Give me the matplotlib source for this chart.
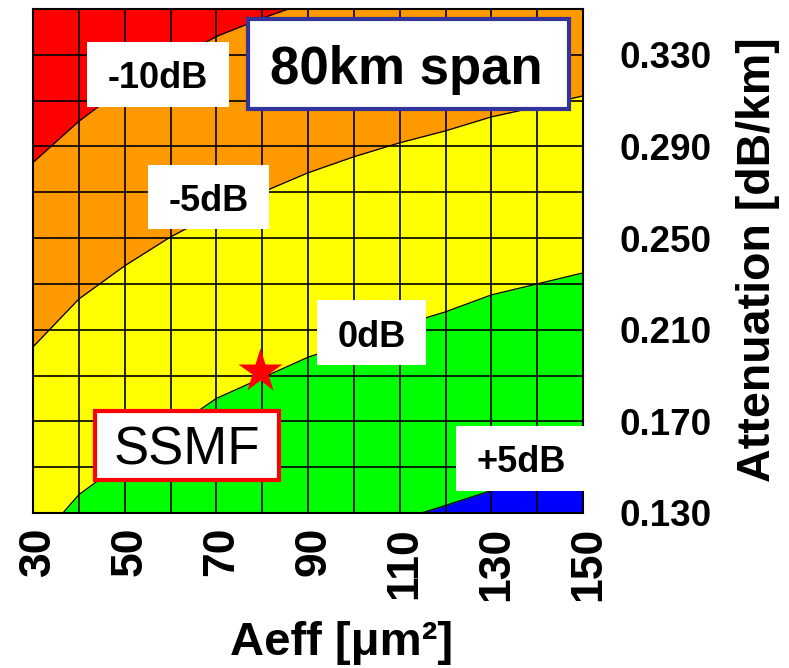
import matplotlib
matplotlib.use('Agg')
import matplotlib.pyplot as plt
import matplotlib.transforms as mtransforms
from matplotlib.patches import Rectangle
from matplotlib.ticker import FixedLocator, FormatStrFormatter

# effective area grid [um^2]
aeff = [30, 40, 50, 60, 70, 80, 90, 100, 110, 120, 130, 140, 150]
# attenuation grid [dB/km]
att_grid = [0.13, 0.15, 0.17, 0.19, 0.21, 0.23, 0.25, 0.27, 0.29, 0.31, 0.33, 0.35]

# attenuation [dB/km] where each level boundary crosses the grid
att_m10 = [0.283, 0.301, 0.316, 0.327, 0.338, 0.346, 0.353, 0.360, 0.366, 0.372, 0.377, 0.382, 0.386]
att_m5 = [0.2025, 0.2234, 0.2379, 0.2505, 0.261, 0.270, 0.2785, 0.2855, 0.2916, 0.2968, 0.3029, 0.3073, 0.3121]
att_0 = [0.115, 0.138, 0.1526, 0.1663, 0.180, 0.189, 0.198, 0.2046, 0.2117, 0.2178, 0.2252, 0.230, 0.2348]
aeff_p5 = [110, 120, 130, 140, 150]
att_p5 = [0.127, 0.1333, 0.1398, 0.145, 0.150]

ssmf_aeff = 79.5
ssmf_att = 0.192

x_ticks = [30, 50, 70, 90, 110, 130, 150]
y_ticks = [0.130, 0.170, 0.210, 0.250, 0.290, 0.330]

RED = '#FF0000'
ORANGE = '#FF9900'
YELLOW = '#FFFF00'
GREEN = '#00FF00'
BLUE = '#0000FF'


def label_box(ax, x0, y0, x1, y1, edge=None, lw=0):
    r = Rectangle((x0, y0), x1 - x0, y1 - y0, facecolor='white',
                  edgecolor=edge if edge else 'none', linewidth=lw,
                  zorder=4, clip_on=False)
    ax.add_patch(r)


def main():
    plt.rcParams['font.family'] = ['Liberation Sans', 'DejaVu Sans']
    fig = plt.figure(figsize=(7.89, 6.68), dpi=100)
    ax = fig.add_axes([33 / 789, 155 / 668, 550 / 789, 504 / 668])

    ax.set_xlim(30, 150)
    ax.set_ylim(0.13, 0.35)

    # filled levels, lowest on top
    ax.set_facecolor(RED)
    ax.fill_between(aeff, 0.10, att_m10, color=ORANGE, lw=0, zorder=1)
    ax.fill_between(aeff, 0.10, att_m5, color=YELLOW, lw=0, zorder=1)
    ax.fill_between(aeff, 0.10, att_0, color=GREEN, lw=0, zorder=1)
    ax.fill_between(aeff_p5, 0.10, att_p5, color=BLUE, lw=0, zorder=1)
    for xs, ys in [(aeff, att_m10), (aeff, att_m5), (aeff, att_0), (aeff_p5, att_p5)]:
        ax.plot(xs, ys, color='black', lw=0.9, zorder=2)

    # mesh
    ax.xaxis.set_minor_locator(FixedLocator(aeff))
    ax.yaxis.set_minor_locator(FixedLocator(att_grid))
    ax.set_axisbelow(False)
    ax.grid(which='both', color='black', lw=1.2)
    for s in ax.spines.values():
        s.set_linewidth(1.5)
        s.set_zorder(3)

    ax.set_xticks(x_ticks)
    ax.set_yticks(y_ticks)
    ax.yaxis.set_major_formatter(FormatStrFormatter('%.3f'))
    ax.yaxis.tick_right()
    ax.tick_params(which='both', length=0)
    ax.tick_params(axis='y', pad=26, labelsize=26.5)
    ax.tick_params(axis='x', pad=10, labelsize=32, labelrotation=90)
    for t in ax.get_xticklabels() + ax.get_yticklabels():
        t.set_fontweight('bold')
    shift = mtransforms.ScaledTranslation(4 / 72, 0, fig.dpi_scale_trans)
    for t in ax.get_xticklabels():
        t.set_transform(t.get_transform() + shift)

    fig.text(341.5 / 789, 13 / 668, 'Aeff [\u03bcm\u00b2]', ha='center', va='baseline',
             fontsize=34, fontweight='bold')
    fig.text(758 / 789, 408 / 668, 'Attenuation [dB/km]', rotation=90, ha='center',
             va='center', fontsize=33.5, fontweight='bold')

    # level labels
    label_box(ax, 41.8, 0.3073, 72.8, 0.3357)
    ax.text(57.2, 0.3156, '-10dB', ha='center', va='baseline', fontsize=26,
            fontweight='bold', zorder=5)
    label_box(ax, 55.1, 0.254, 81.5, 0.282)
    ax.text(68.3, 0.2619, '-5dB', ha='center', va='baseline', fontsize=26,
            fontweight='bold', zorder=5)
    label_box(ax, 92.0, 0.1946, 115.8, 0.223)
    ax.text(103.9, 0.2025, '0dB', ha='center', va='baseline', fontsize=26,
            fontweight='bold', zorder=5)
    label_box(ax, 122.3, 0.1396, 150.4, 0.168)
    ax.text(136.6, 0.1479, '+5dB', ha='center', va='baseline', fontsize=26,
            fontweight='bold', zorder=5)

    label_box(ax, 76.9, 0.3064, 147.0, 0.3457, edge='#333399', lw=3)
    ax.text(111.5, 0.3173, '80km span', ha='center', va='baseline', fontsize=38,
            fontweight='bold', zorder=5)

    label_box(ax, 43.5, 0.1444, 83.7, 0.1745, edge=RED, lw=3)
    ax.text(63.6, 0.151, 'SSMF', ha='center', va='baseline', fontsize=38, zorder=5)

    ax.plot(ssmf_aeff, ssmf_att, marker='*', ms=33, color=RED, mec='none',
            zorder=6, clip_on=False)

    fig.savefig('out.png', dpi=100)


if __name__ == '__main__':
    main()
